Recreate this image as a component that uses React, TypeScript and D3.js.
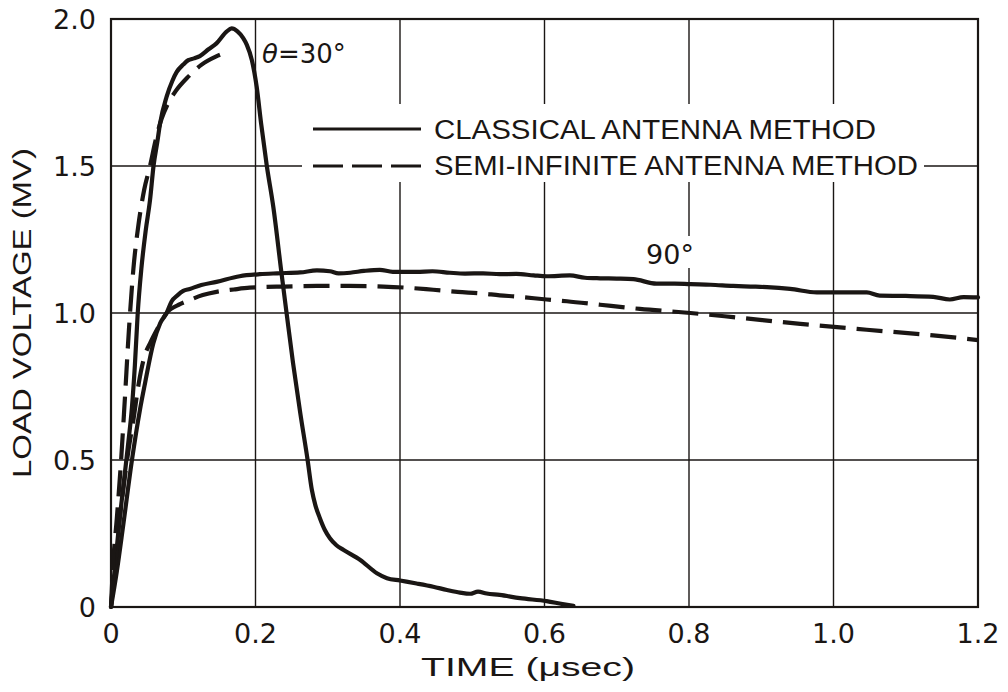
import React from "react";
import * as d3 from "d3";

// ---- data (time in µsec, load voltage in MV) ----
const xTicks = [0, 0.2, 0.4, 0.6, 0.8, 1.0, 1.2];
const xTickLabels = ["0", "0.2", "0.4", "0.6", "0.8", "1.0", "1.2"];
const yTicks = [0, 0.5, 1.0, 1.5, 2.0];
const yTickLabels = ["0", "0.5", "1.0", "1.5", "2.0"];

const classical30: [number, number][] = [
  [0, 0], [0.006, 0.15], [0.012, 0.3], [0.018, 0.43], [0.024, 0.56], [0.029, 0.68],
  [0.033, 0.82], [0.037, 1.0], [0.042, 1.15], [0.048, 1.28], [0.054, 1.384], [0.059, 1.503],
  [0.064, 1.58], [0.068, 1.646], [0.077, 1.736], [0.085, 1.79], [0.091, 1.82], [0.1, 1.845],
  [0.107, 1.86], [0.115, 1.866], [0.123, 1.874], [0.135, 1.897], [0.146, 1.917], [0.16, 1.957],
  [0.167, 1.968], [0.175, 1.958], [0.183, 1.935], [0.188, 1.912], [0.195, 1.86], [0.2016, 1.77],
  [0.208, 1.64], [0.2155, 1.503], [0.2247, 1.36], [0.236, 1.135], [0.243, 1.0], [0.252, 0.829],
  [0.262, 0.659], [0.272, 0.502], [0.278, 0.398], [0.283, 0.345], [0.289, 0.303], [0.296, 0.262],
  [0.303, 0.234], [0.312, 0.21], [0.322, 0.194], [0.345, 0.16], [0.368, 0.115], [0.382, 0.098],
  [0.4, 0.09], [0.423, 0.08], [0.446, 0.069], [0.465, 0.058], [0.483, 0.049], [0.497, 0.045],
  [0.508, 0.052], [0.52, 0.046], [0.538, 0.041], [0.566, 0.03], [0.603, 0.02], [0.625, 0.01],
  [0.64, 0.004],
];

const semiInf30: [number, number][] = [
  [0, 0], [0.003, 0.15], [0.008, 0.3], [0.014, 0.5], [0.019, 0.7], [0.025, 0.95],
  [0.031, 1.15], [0.038, 1.3], [0.046, 1.42], [0.054, 1.5], [0.062, 1.59], [0.07, 1.66],
  [0.079, 1.713], [0.089, 1.753], [0.107, 1.804], [0.125, 1.844], [0.145, 1.872], [0.165, 1.89],
];

const classical90: [number, number][] = [
  [0, 0], [0.008, 0.12], [0.017, 0.28], [0.029, 0.5], [0.04, 0.67], [0.047, 0.76],
  [0.0586, 0.897], [0.068, 0.965], [0.077, 1.0], [0.084, 1.04], [0.092, 1.06], [0.1, 1.075],
  [0.109, 1.082], [0.125, 1.095], [0.146, 1.106], [0.178, 1.125], [0.206, 1.132], [0.23, 1.135],
  [0.262, 1.138], [0.285, 1.145], [0.303, 1.142], [0.315, 1.135], [0.331, 1.137], [0.35, 1.143],
  [0.372, 1.147], [0.39, 1.14], [0.423, 1.14], [0.445, 1.142], [0.469, 1.137], [0.49, 1.134],
  [0.515, 1.135], [0.538, 1.132], [0.561, 1.133], [0.585, 1.128], [0.603, 1.125], [0.635, 1.128],
  [0.656, 1.12], [0.677, 1.118], [0.7, 1.117], [0.723, 1.115], [0.755, 1.1], [0.78, 1.1],
  [0.802, 1.098], [0.83, 1.096], [0.861, 1.092], [0.885, 1.09], [0.908, 1.088], [0.94, 1.082],
  [0.977, 1.07], [1.01, 1.07], [1.046, 1.07], [1.064, 1.059], [1.1, 1.058], [1.138, 1.055],
  [1.161, 1.046], [1.18, 1.054], [1.2, 1.053],
];

const semiInf90: [number, number][] = [
  [0, 0], [0.004, 0.12], [0.01, 0.26], [0.017, 0.4], [0.024, 0.53], [0.031, 0.636],
  [0.0384, 0.761], [0.046, 0.85], [0.054, 0.897], [0.065, 0.95], [0.077, 1.0], [0.0955, 1.03],
  [0.105, 1.04], [0.127, 1.061], [0.146, 1.072], [0.17, 1.08], [0.192, 1.086], [0.24, 1.09],
  [0.285, 1.092], [0.33, 1.092], [0.377, 1.09], [0.41, 1.086], [0.446, 1.079], [0.48, 1.072],
  [0.515, 1.066], [0.538, 1.06], [0.561, 1.056], [0.603, 1.046], [0.631, 1.04], [0.677, 1.028],
  [0.732, 1.014], [0.802, 1.0], [0.861, 0.986], [0.954, 0.963], [1.046, 0.943], [1.138, 0.924],
  [1.2, 0.908],
];

const legendLabels = ["CLASSICAL ANTENNA METHOD", "SEMI-INFINITE ANTENNA METHOD"];

// ---- layout ----
const W = 1008;
const H = 692;
const left = 111;
const right = 978;
const top = 19;
const bottom = 607;
const FONT = "'Liberation Sans', 'DejaVu Sans', sans-serif";
const NUMFONT = "'DejaVu Sans', 'Liberation Sans', sans-serif";
const INK = "#1a1614";

export default function App() {
  const x = d3.scaleLinear().domain([0, 1.2]).range([left, right]);
  const y = d3.scaleLinear().domain([0, 2.0]).range([bottom, top]);
  const line = d3
    .line<[number, number]>()
    .x((d) => x(d[0]))
    .y((d) => y(d[1]))
    .curve(d3.curveMonotoneX);

  const dash = "26 11";

  return (
    <svg
      width={W}
      height={H}
      style={{ position: "absolute", left: 0, top: 0, background: "#fff" }}
    >
      <rect x={0} y={0} width={W} height={H} fill="#fff" />
      {/* grid */}
      <g stroke={INK} strokeWidth={1.4}>
        {xTicks.slice(1, -1).map((t) => (
          <line key={"gx" + t} x1={x(t)} x2={x(t)} y1={top} y2={bottom} />
        ))}
        {yTicks.slice(1, -1).map((v) => (
          <line key={"gy" + v} x1={left} x2={right} y1={y(v)} y2={y(v)} />
        ))}
      </g>
      {/* frame */}
      <rect
        x={left}
        y={top}
        width={right - left}
        height={bottom - top}
        fill="none"
        stroke={INK}
        strokeWidth={2.2}
      />

      {/* legend box (blanks grid) */}
      <rect x={302} y={104} width={622} height={78} fill="#fff" />
      <line x1={313} x2={421} y1={129} y2={129} stroke={INK} strokeWidth={3.2} />
      <line
        x1={313}
        x2={421}
        y1={y(1.5)}
        y2={y(1.5)}
        stroke={INK}
        strokeWidth={3.2}
        strokeDasharray="30 9"
      />
      <text
        x={434}
        y={139}
        fontFamily={FONT}
        fontSize={27}
        fill={INK}
        textLength={442}
        lengthAdjust="spacingAndGlyphs"
      >
        {legendLabels[0]}
      </text>
      <text
        x={434}
        y={175}
        fontFamily={FONT}
        fontSize={27}
        fill={INK}
        textLength={484}
        lengthAdjust="spacingAndGlyphs"
      >
        {legendLabels[1]}
      </text>

      {/* 90° label */}
      <rect x={640} y={236} width={60} height={32} fill="#fff" />
      <text x={670} y={264} textAnchor="middle" fontFamily={NUMFONT} fontSize={27} fill={INK}>
        90°
      </text>
      {/* theta label */}
      <text x={262} y={63} fontFamily={NUMFONT} fontSize={26} fill={INK}>
        <tspan fontStyle="italic">θ</tspan>
        <tspan>=30°</tspan>
      </text>

      {/* curves */}
      <g fill="none" stroke={INK} strokeWidth={4.2} strokeLinejoin="round" strokeLinecap="round">
        <path d={line(classical90) || ""} />
        <path d={line(semiInf90) || ""} strokeDasharray={dash} strokeLinecap="butt" />
        <path d={line(classical30) || ""} />
        <path d={line(semiInf30) || ""} strokeDasharray={dash} strokeLinecap="butt" />
      </g>

      {/* tick labels */}
      <g fontFamily={NUMFONT} fontSize={27} fill={INK}>
        {xTicks.map((t, i) => (
          <text key={"tx" + t} x={x(t)} y={643} textAnchor="middle">
            {xTickLabels[i]}
          </text>
        ))}
        {yTicks.map((v, i) => (
          <text key={"ty" + v} x={96} y={y(v) + 10} textAnchor="end">
            {yTickLabels[i]}
          </text>
        ))}
      </g>

      {/* axis titles */}
      <text
        x={528}
        y={676}
        textAnchor="middle"
        fontFamily={FONT}
        fontSize={25}
        fill={INK}
        textLength={214}
        lengthAdjust="spacingAndGlyphs"
      >
        TIME (μsec)
      </text>
      <text
        transform={`translate(31, ${313}) rotate(-90)`}
        textAnchor="middle"
        fontFamily={FONT}
        fontSize={25}
        fill={INK}
        textLength={330}
        lengthAdjust="spacingAndGlyphs"
      >
        LOAD VOLTAGE (MV)
      </text>
    </svg>
  );
}
